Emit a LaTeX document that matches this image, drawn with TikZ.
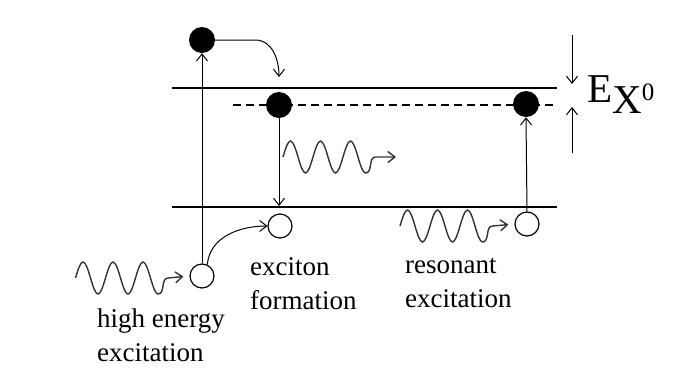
\documentclass[tikz,border=0pt]{standalone}
\usepackage{fontspec}
\setmainfont{Liberation Serif}
\usetikzlibrary{arrows.meta}
\tikzset{
  occ/.style={circle, fill=black, minimum size=26pt, inner sep=0pt},
  emp/.style={circle, draw, line width=1.2pt, minimum size=24pt, inner sep=0pt},
  lvl/.style={line width=1.8pt},
  trans/.style={line width=1pt, -{Straight Barb[length=7pt,width=11pt]}},
  wv/.style={line width=1.4pt, black!80, -{Straight Barb[length=7pt,width=11pt]}},
  lbl/.style={font=\fontsize{27}{34}\selectfont, align=left, inner sep=0pt, anchor=base west}}

\begin{document}
\begin{tikzpicture}[x=1pt,y=-1pt]
\useasboundingbox (0,0) rectangle (696,373);
	% levels
	\coordinate (cbl) at (172,88);
	\coordinate (cbr) at (557,88);
	\coordinate (vbl) at (172,207);
	\coordinate (vbr) at (557,207);
	\coordinate (exl) at (233,105);
	\coordinate (exr) at (557,105);
	\draw [lvl] (cbl) -- (cbr);
	\draw [lvl] (vbl) -- (vbr);
	\draw [line width=1.4pt, dash pattern=on 8pt off 5pt] (exl) -- (exr);
	% electrons and holes
	\node [occ] (hi) at (202,40) {};
	\node [occ] (mid) at (279,105) {};
	\node [occ] (rhi) at (526,104) {};
	\node [emp] (lo) at (202,276) {};
	\node [emp] (midlo) at (280,226) {};
	\node [emp] (rlo) at (527,224) {};
	\coordinate (drop) at (279,77);
	\coordinate (land) at (279,206);
	% transitions
	\draw [trans] (lo.north) -- (hi.south);
	\draw [trans] (hi.east) -- ++(40,0) to[out=0,in=90] (drop);
	\draw [trans] (mid.south) -- (land);
	\draw [trans] (lo.65) to[out=85,in=180] (midlo.west);
	\draw [trans] (rlo.north) -- (rhi.south);
	% photons
	\coordinate (wl) at (75.5,278);
	\coordinate (wm) at (283,157);
	\coordinate (wr) at (400,226);
	\coordinate (emit) at (396,157);
	\draw [wv, shorten >=6pt] (wl)
	  sin ++(7.5,-16) cos ++(7.5,16) sin ++(7.5,16) cos ++(7.5,-16)
	  sin ++(7.5,-16) cos ++(7.5,16) sin ++(7.5,16) cos ++(7.5,-16)
	  sin ++(7.5,-16) cos ++(7.5,16) sin ++(7.5,16)
	  to[out=0,in=180] ++(10,-16) -- (lo.west);
	\draw [wv] (wm)
	  sin ++(7.5,-16) cos ++(7.5,16) sin ++(7.5,16) cos ++(7.5,-16)
	  sin ++(7.5,-16) cos ++(7.5,16) sin ++(7.5,16) cos ++(7.5,-16)
	  sin ++(7.5,-16) cos ++(7.5,16) sin ++(7.5,16)
	  to[out=0,in=180] ++(10,-16) -- (emit);
	\draw [wv, shorten >=6pt] (wr)
	  sin ++(7.5,-16) cos ++(7.5,16) sin ++(7.5,16) cos ++(7.5,-16)
	  sin ++(7.5,-16) cos ++(7.5,16) sin ++(7.5,16) cos ++(7.5,-16)
	  sin ++(7.5,-16) cos ++(7.5,16) sin ++(7.5,16)
	  to[out=0,in=180] ++(10,-16) -- (rlo.west);
	% binding energy
	\coordinate (et) at (572,35);
	\coordinate (ett) at (572,84);
	\coordinate (eb) at (572,153);
	\coordinate (ebt) at (572,107);
	\draw [trans] (et) -- (ett);
	\draw [trans] (eb) -- (ebt);
	\node [lbl, font=\fontsize{41}{41}\selectfont] (ex0) at (587,102)
	  {E\raisebox{-11pt}{X}\raisebox{2pt}{\fontsize{25}{25}\selectfont 0}};
	% labels
	\node [lbl] (high) at (97,361) {high energy\\excitation};
	\node [lbl] (form) at (250,309) {exciton\\formation};
	\node [lbl] (reso) at (405,307) {resonant\\excitation};
\end{tikzpicture}
\end{document}
